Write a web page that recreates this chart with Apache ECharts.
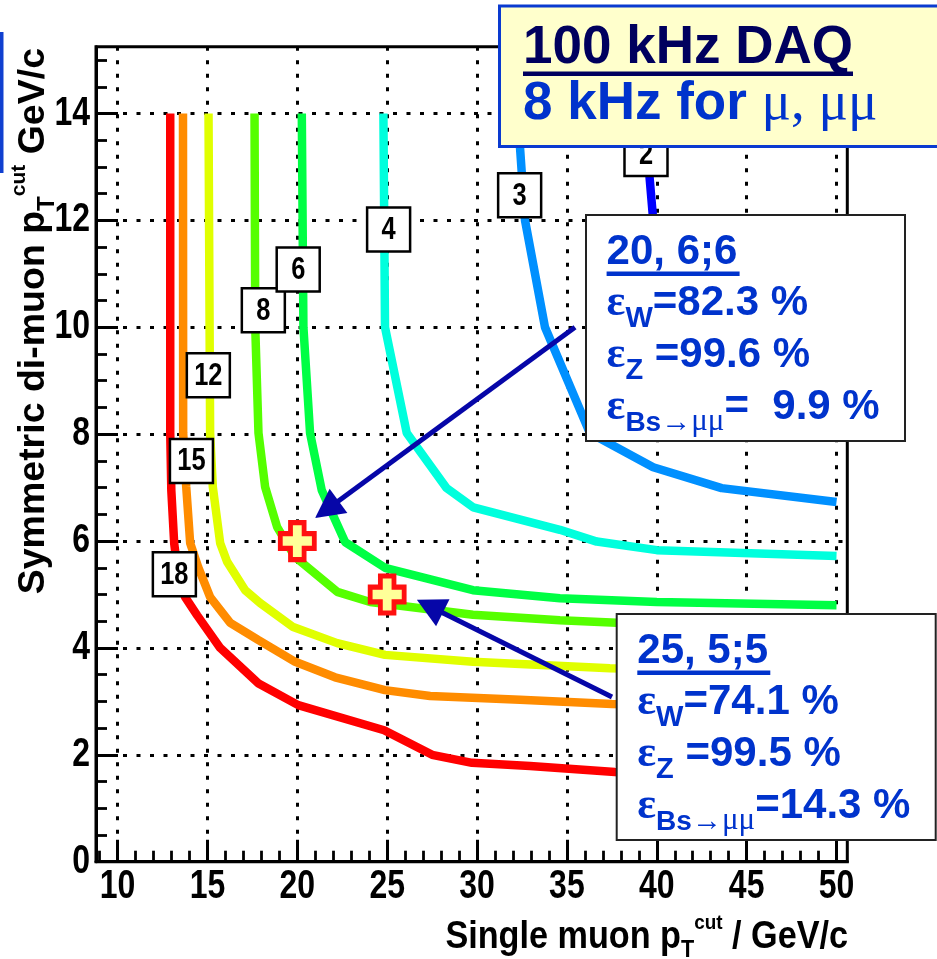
<!DOCTYPE html>
<html>
<head>
<meta charset="utf-8">
<script src="https://cdn.jsdelivr.net/npm/echarts@6/dist/echarts.min.js"></script>
<style>
html,body{margin:0;padding:0;background:#fff;}
#chart{width:937px;height:959px;}
</style>
</head>
<body>
<div id="chart"></div>
<script>
// Axis ranges and tick labels
const xMin = 8.8, xMax = 50.6;
const yMin = 0, yMax = 15.25;
const xTickValues = [10, 15, 20, 25, 30, 35, 40, 45, 50];
const yTickValues = [0, 2, 4, 6, 8, 10, 12, 14];

// Iso-rate contours (label = rate), x: single-muon cut, y: symmetric di-muon cut
const curveNames  = ['18', '15', '12', '8', '6', '4', '3', '2'];
const curveColors = ['#ff0000', '#ff8c00', '#e0ff00', '#55ff00', '#00ff44', '#00ffdd', '#0090ff', '#0000ff'];

const rate18X = [12.93, 12.93, 12.99, 13.15, 13.37, 13.76, 14.43, 15.71, 17.82, 20.05, 24.83, 27.5, 29.72, 32.95, 37.67, 42.4, 50];
const rate18Y = [14, 8.02, 6.95, 5.96, 5.36, 4.95, 4.61, 4.0, 3.34, 2.93, 2.46, 2.0, 1.85, 1.79, 1.68, 1.6, 1.53];

const rate15X = [13.64, 13.65, 13.82, 14.04, 14.49, 15.15, 16.27, 17.82, 19.88, 22.1, 24.88, 27.39, 32.39, 37.5, 50];
const rate15Y = [14, 8.02, 7.01, 5.96, 5.51, 4.95, 4.47, 4.15, 3.74, 3.45, 3.21, 3.1, 3.03, 2.95, 2.88];

const rate12X = [15.06, 15.15, 15.3, 15.71, 16.1, 17.1, 17.93, 19.77, 22.22, 24.88, 29.77, 37.39, 50];
const rate12Y = [14, 8.02, 7.01, 5.96, 5.61, 5.08, 4.84, 4.39, 4.09, 3.87, 3.74, 3.62, 3.53];

const rate8X = [17.62, 17.66, 17.84, 18.21, 18.88, 19.88, 22.22, 24.05, 29.77, 34.61, 37.78, 50];
const rate8Y = [14, 10, 8.02, 7.01, 6.26, 5.70, 5.05, 4.86, 4.62, 4.52, 4.47, 4.37];

const rate6X = [20.25, 20.34, 20.71, 21.36, 22.66, 24.88, 29.77, 34.61, 40, 50];
const rate6Y = [14, 10, 8.02, 6.95, 5.98, 5.5, 5.08, 4.93, 4.86, 4.8];

const rate4X = [24.79, 24.88, 26.09, 28.31, 29.79, 34.61, 36.66, 40, 50];
const rate4Y = [14, 10, 8.02, 6.99, 6.63, 6.21, 5.99, 5.83, 5.72];

const rate3X = [32.2, 32.39, 32.67, 33.78, 36.28, 39.8, 43.61, 50];
const rate3Y = [14, 13.37, 12, 10, 8.02, 7.38, 6.99, 6.73];

const rate2X = [39.5, 39.6, 39.78, 40.45, 41.86, 44.08, 46.86, 50];
const rate2Y = [14, 12.8, 12.09, 11.25, 10.32, 9.38, 8.63, 7.98];

// Where each contour's rate tag sits
const tagX = [13.16, 14.11, 15.05, 18.11, 20.05, 25.08, 32.37, 39.40];
const tagY = [5.38, 7.50, 9.10, 10.32, 11.08, 11.83, 12.47, 13.24];

// Chosen working points (single cut, di-muon cut)
const pointX = [20, 25];
const pointY = [6, 5];

// Arrows from the summary boxes to the working points
const arrowFromX = [35.45, 37.51];
const arrowFromY = [10.0, 3.08];
const arrowToX   = [20.99, 26.65];
const arrowToY   = [6.43, 4.9];

const SANS  = "'Liberation Sans', Arial, Helvetica, sans-serif";
const SERIF = "'Liberation Serif', 'Times New Roman', serif";
const BLUE  = '#0033cc';
const CONDENSE = 0.8;   // horizontal squeeze for the condensed axis lettering

const curveXs = [rate18X, rate15X, rate12X, rate8X, rate6X, rate4X, rate3X, rate2X];
const curveYs = [rate18Y, rate15Y, rate12Y, rate8Y, rate6Y, rate4Y, rate3Y, rate2Y];

const xMinorValues = [];
for (let v = 9; v <= 50; v++) xMinorValues.push(v);
const yMinorValues = [];
for (let v = 0.5; v <= 15; v += 0.5) yMinorValues.push(v);

const curveSeries = curveNames.map((name, i) => ({
  type: 'line',
  name: name,
  xAxisIndex: 0, yAxisIndex: 0,
  data: curveXs[i].map((x, k) => [x, curveYs[i][k]]),
  symbol: 'none',
  showSymbol: false,
  lineStyle: { color: curveColors[i], width: 8.5 },
  z: 3,
  silent: true
}));

// Rate tags: white boxed numbers on each contour
const tagSeries = {
  type: 'custom',
  xAxisIndex: 0, yAxisIndex: 0,
  data: tagX.map((x, i) => [x, tagY[i], i]),
  encode: { x: 0, y: 1 },
  renderItem: function (params, api) {
    const p = api.coord([api.value(0), api.value(1)]);
    const name = curveNames[api.value(2)];
    return {
      type: 'group',
      children: [
        { type: 'rect', shape: { x: p[0] - 21.5, y: p[1] - 22, width: 43, height: 44 },
          style: { fill: '#ffffff', stroke: '#000000', lineWidth: 2.5 } },
        { type: 'text', x: p[0], y: p[1] + 1, scaleX: 0.82,
          style: { text: name, fontFamily: SANS, fontWeight: 'bold', fontSize: 31, fill: '#000',
                   align: 'center', verticalAlign: 'middle' } }
      ]
    };
  },
  z: 5,
  silent: true
};

const pointSeries = {
  type: 'scatter',
  xAxisIndex: 0, yAxisIndex: 0,
  data: pointX.map((x, i) => [x, pointY[i]]),
  symbol: 'path://M6,0H14V6H20V14H14V20H6V14H0V6H6Z',
  symbolSize: [34, 37],
  itemStyle: { color: '#ffff99', borderColor: '#ff1010', borderWidth: 5, opacity: 1 },
  z: 7,
  silent: true
};

const arrowSeries = {
  type: 'custom',
  xAxisIndex: 0, yAxisIndex: 0,
  data: arrowFromX.map((x, i) => [x, arrowFromY[i], arrowToX[i], arrowToY[i]]),
  encode: { x: [0, 2], y: [1, 3] },
  renderItem: function (params, api) {
    const p1 = api.coord([api.value(0), api.value(1)]);
    const p2 = api.coord([api.value(2), api.value(3)]);
    const dx = p2[0] - p1[0], dy = p2[1] - p1[1];
    const len = Math.hypot(dx, dy);
    const ux = dx / len, uy = dy / len;
    const hl = 29, hw = 15;
    const bx = p2[0] - ux * hl, by = p2[1] - uy * hl;
    return {
      type: 'group',
      children: [
        { type: 'line', shape: { x1: p1[0], y1: p1[1], x2: bx + ux * 3, y2: by + uy * 3 },
          style: { stroke: '#0606a8', lineWidth: 5 } },
        { type: 'polygon', shape: { points: [[p2[0], p2[1]], [bx - uy * hw, by + ux * hw], [bx + uy * hw, by - ux * hw]] },
          style: { fill: '#0606a8' } }
      ]
    };
  },
  z: 6,
  silent: true
};

// Text helper: left-aligned, positioned by baseline
function baseText(x, base, text, size, family, weight, color) {
  return {
    type: 'text', x: x, y: base - 0.3465 * size, z: 110,
    style: { text: text, fontSize: size, fontFamily: family, fontWeight: weight, fill: color,
             align: 'left', verticalAlign: 'middle' }
  };
}

// A summary box: heading plus three efficiency lines with subscripts
function summaryBox(bx, by, heading, wVal, zVal, bsVal) {
  const x0 = bx + 20.6;
  const rich = {
    e:  { fontFamily: SERIF, fontWeight: 'bold', fontSize: 44, lineHeight: 60, verticalAlign: 'middle', fill: BLUE },
    m:  { fontFamily: SANS, fontWeight: 'bold', fontSize: 42, lineHeight: 60, verticalAlign: 'middle', fill: BLUE },
    s:  { fontFamily: SANS, fontWeight: 'bold', fontSize: 29, lineHeight: 25, verticalAlign: 'bottom', fill: BLUE },
    sb: { fontFamily: SANS, fontWeight: 'bold', fontSize: 28, lineHeight: 25, verticalAlign: 'bottom', fill: BLUE },
    sa: { fontFamily: SANS, fontSize: 30, lineHeight: 27, verticalAlign: 'bottom', fill: BLUE },
    su: { fontFamily: SERIF, fontSize: 31, lineHeight: 25, verticalAlign: 'bottom', fill: BLUE }
  };
  const line = (base, str) => ({
    type: 'text', x: x0, y: base - 0.3465 * 42, z: 110,
    style: { text: str, rich: rich, align: 'left', verticalAlign: 'middle' }
  });
  return [
    { type: 'rect', z: 100, shape: { x: bx, y: by, width: 319, height: 226 },
      style: { fill: '#ffffff', stroke: '#222222', lineWidth: 2 } },
    baseText(x0, by + 51.7, heading, 42, SANS, 'bold', BLUE),
    { type: 'rect', z: 110, shape: { x: x0, y: by + 56.5, width: 133, height: 4.5 }, style: { fill: BLUE } },
    line(by + 103, '{e|ε}{s|W}{m|' + wVal + '}'),
    line(by + 155, '{e|ε}{s|Z}{m| ' + zVal + '}'),
    line(by + 207, '{e|ε}{sb|Bs}{sa|→}{su|μμ}{m|' + bsVal + '}')
  ];
}

const staticGraphics = [].concat(
  [
    // slide accent bar
    { type: 'rect', z: 100, shape: { x: 0, y: 32, width: 3.5, height: 141 }, style: { fill: '#1040d0' } },
    // y-axis title
    { type: 'text', x: 34, y: 48, rotation: Math.PI / 2, z: 110,
      style: {
        text: '{m|Symmetric di-muon p}{sub|T}{sup|cut}{m| GeV/c}',
        align: 'right', verticalAlign: 'middle',
        rich: {
          m:   { fontFamily: SANS, fontWeight: 'bold', fontSize: 37.5, lineHeight: 50, verticalAlign: 'middle', fill: '#000' },
          sub: { fontFamily: SANS, fontWeight: 'bold', fontSize: 24, lineHeight: 24, verticalAlign: 'bottom', fill: '#000' },
          sup: { fontFamily: SANS, fontWeight: 'bold', fontSize: 21, lineHeight: 32, verticalAlign: 'top', fill: '#000' }
        }
      } },
    // x-axis title
    { type: 'text', x: 848, y: 951 - 0.3465 * 38, scaleX: 0.9, z: 110,
      style: {
        text: '{m|Single muon p}{sub|T}{sup|cut}{m| / GeV/c}',
        align: 'right', verticalAlign: 'middle',
        rich: {
          m:   { fontFamily: SANS, fontWeight: 'bold', fontSize: 38, lineHeight: 50, verticalAlign: 'middle', fill: '#000' },
          sub: { fontFamily: SANS, fontWeight: 'bold', fontSize: 24, lineHeight: 28, verticalAlign: 'bottom', fill: '#000' },
          sup: { fontFamily: SANS, fontWeight: 'bold', fontSize: 21, lineHeight: 10, verticalAlign: 'top', fill: '#000' }
        }
      } },
    // DAQ budget box
    { type: 'rect', z: 100, shape: { x: 499.5, y: 6, width: 445, height: 140.5 },
      style: { fill: '#ffffcc', stroke: '#0a3ad0', lineWidth: 3 } },
    baseText(523, 66.7, '100 kHz DAQ', 53, SANS, 'bold', '#00005e'),
    { type: 'rect', z: 110, shape: { x: 523, y: 71.5, width: 330, height: 4.5 }, style: { fill: '#00005e' } },
    { type: 'text', x: 523, y: 123 - 0.3465 * 53, z: 110,
      style: {
        text: '{a|8 kHz for }{u|μ, μμ}', align: 'left', verticalAlign: 'middle',
        rich: {
          a: { fontFamily: SANS, fontWeight: 'bold', fontSize: 53, fill: BLUE },
          u: { fontFamily: SERIF, fontSize: 55, fill: BLUE }
        }
      } }
  ],
  summaryBox(586, 215, '20, 6;6', '=82.3 %', '=99.6 %', '=  9.9 %'),
  summaryBox(616.7, 614, '25, 5;5', '=74.1 %', '=99.5 %', '=14.3 %')
);

const chart = echarts.init(document.getElementById('chart'), null, { renderer: 'canvas' });
chart.setOption({
  animation: false,
  backgroundColor: '#ffffff',
  grid: {
    left: 96, right: 89.7, top: 46.7, bottom: 97.3,
    show: true, borderColor: '#000', borderWidth: 3, backgroundColor: 'transparent',
    outerBoundsMode: 'none'
  },
  xAxis: [
    {
      type: 'value', min: xMin, max: xMax, position: 'bottom',
      axisLine: { show: true, onZero: false, lineStyle: { color: '#000', width: 3 } },
      axisTick: { show: true, inside: true, length: 22, customValues: xTickValues, lineStyle: { color: '#000', width: 3 } },
      axisLabel: { show: false },
      splitLine: { show: true, lineStyle: { color: '#000', width: 3, type: [4, 9.5] } }
    },
    {
      type: 'value', min: xMin, max: xMax, position: 'bottom',
      axisLine: { show: false },
      axisTick: { show: true, inside: true, length: 11, customValues: xMinorValues, lineStyle: { color: '#000', width: 2.8 } },
      axisLabel: { show: false },
      splitLine: { show: false }
    }
  ],
  yAxis: [
    {
      type: 'value', min: yMin, max: yMax, position: 'left',
      axisLine: { show: true, onZero: false, lineStyle: { color: '#000', width: 3 } },
      axisTick: { show: true, inside: true, length: 22, customValues: yTickValues, lineStyle: { color: '#000', width: 3 } },
      axisLabel: { show: false },
      splitLine: { show: true, lineStyle: { color: '#000', width: 3, type: [4, 9.5] } }
    },
    {
      type: 'value', min: yMin, max: yMax, position: 'left',
      axisLine: { show: false },
      axisTick: { show: true, inside: true, length: 11, customValues: yMinorValues, lineStyle: { color: '#000', width: 2.8 } },
      axisLabel: { show: false },
      splitLine: { show: false }
    }
  ],
  series: curveSeries.concat([arrowSeries, tagSeries, pointSeries]),
  graphic: { elements: staticGraphics }
});

// Condensed tick labels, placed through the axes' own value-to-pixel mapping
const gridRect = chart.getModel().getComponent('grid', 0).coordinateSystem.getRect();
const axisBottom = gridRect.y + gridRect.height;
const axisLeft = gridRect.x;
const tickLabels = [];
xTickValues.forEach(v => {
  const px = chart.convertToPixel({ xAxisIndex: 0 }, v);
  tickLabels.push({
    type: 'text', x: px, y: axisBottom + 25.5, scaleX: CONDENSE, z: 110,
    style: { text: String(v), fontFamily: SANS, fontWeight: 'bold', fontSize: 40, fill: '#000',
             align: 'center', verticalAlign: 'middle' }
  });
});
yTickValues.forEach(v => {
  const py = chart.convertToPixel({ yAxisIndex: 0 }, v);
  tickLabels.push({
    type: 'text', x: axisLeft - 6, y: py, scaleX: CONDENSE, z: 110,
    style: { text: String(v), fontFamily: SANS, fontWeight: 'bold', fontSize: 40, fill: '#000',
             align: 'right', verticalAlign: 'middle' }
  });
});
chart.setOption({ graphic: { elements: staticGraphics.concat(tickLabels) } });
</script>
</body>
</html>
